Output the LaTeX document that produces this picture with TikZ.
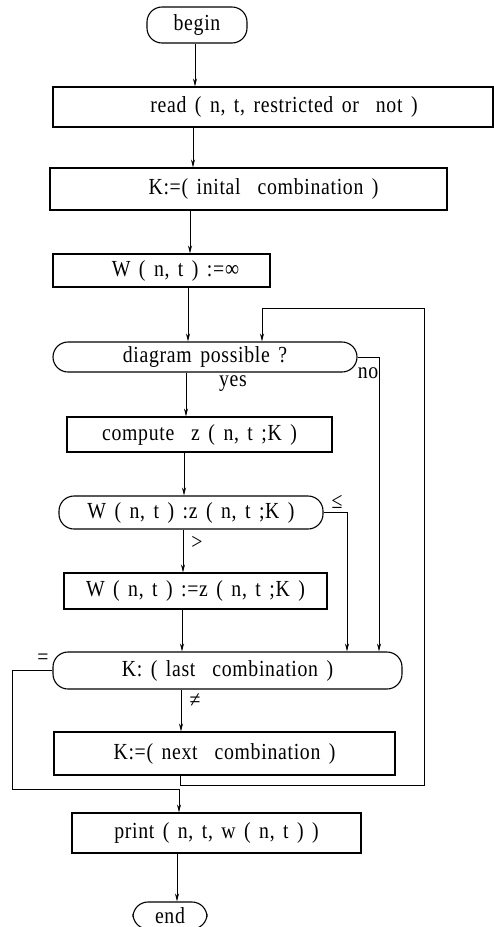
\documentclass[tikz,border=0pt]{standalone}
\usepackage{fontspec}
\setmainfont[FakeStretch=0.86,LetterSpace=3,WordSpace=1.5]{Liberation Serif}
\usetikzlibrary{arrows.meta}
\begin{document}
\begin{tikzpicture}[x=1pt,y=-1pt,
  box/.style={draw,line width=1.1pt,minimum width=#1,inner sep=0pt},
  stad/.style={draw,line width=1.1pt,rounded corners=15pt,minimum width=#1,inner sep=0pt},
  conn/.style={line width=0.7pt},
  arr/.style={conn,-{Stealth[length=8pt,width=4pt]}},
  lab/.style={inner sep=0pt},
  every node/.style={font=\fontsize{23}{25}\selectfont}]
\useasboundingbox (0,0) rectangle (494,927);
% nodes
\node[stad=100, minimum height=36] (begin) at (197,25) {begin};
\node[box=440, minimum height=40] (read) at (273,107) {\hspace{22pt}read ( n, t, restricted or \ not )};
\node[box=397, minimum height=42] (init) at (248.5,189) {\hspace{30pt}K:=( inital \ combination )};
\node[box=217, minimum height=33] (winf) at (161.5,270.5) {\hspace{28pt}W ( n, t ) :=∞};
\node[stad=304, minimum height=30] (diag) at (205,357) {diagram possible ?};
\node[box=265, minimum height=35] (comp) at (199.5,434.5) {compute \ z ( n, t ;K )};
\node[stad=264, minimum height=33] (cmp) at (191,512.5) {W ( n, t ) :z ( n, t ;K )};
\node[box=263, minimum height=36] (asg) at (195.5,591) {W ( n, t ) :=z ( n, t ;K )};
\node[stad=349, minimum height=37] (last) at (227.5,670.5) {K: ( last \ combination )\hspace{10pt}};
\node[box=341, minimum height=43] (next) at (224.5,753.5) {K:=( next \ combination )};
\node[box=289, minimum height=40] (print) at (216.5,833) {print ( n, t, w ( n, t ) )};
\node[stad=74, minimum height=27] (end) at (170,915.5) {end};
% labels
\node[lab] (yes) at (233,384) {yes};
\node[lab] (no) at (368,373) {no};
\node[lab] (le) at (337,502) {≤};
\node[lab] (gt) at (197,543) {>};
\node[lab] (eq) at (43,659) {=};
\node[lab] (ne) at (195,701) {≠};
% column coordinates
\coordinate (c1) at (195,0);
\coordinate (c2) at (193,0);
\coordinate (c3) at (190,0);
\coordinate (c4) at (188,0);
\coordinate (c5) at (186,0);
\coordinate (c6) at (184,0);
\coordinate (c7) at (183,0);
\coordinate (c8) at (182,0);
\coordinate (c9) at (181,0);
\coordinate (c10) at (180,0);
\coordinate (c11) at (179,0);
\coordinate (c12) at (177,0);
\coordinate (cno) at (379,0);
\coordinate (cle) at (347,0);
\coordinate (lr) at (424,785);
\coordinate (lt) at (262,308);
\coordinate (eqc) at (12,789);
% connectors
\draw[arr] (begin.south -| c1) -- (read.north -| c1);
\draw[arr] (read.south -| c2) -- (init.north -| c2);
\draw[arr] (init.south -| c3) -- (winf.north -| c3);
\draw[arr] (winf.south -| c4) -- (diag.north -| c4);
\draw[arr] (diag.south -| c5) -- (comp.north -| c5);
\draw[arr] (comp.south -| c6) -- (cmp.north -| c6);
\draw[arr] (cmp.south -| c7) -- (asg.north -| c7);
\draw[arr] (asg.south -| c8) -- (last.north -| c8);
\draw[arr] (last.south -| c9) -- (next.north -| c9);
\draw[arr] (next.south -| c10) |- (lr) |- (lt) -- (diag.north -| lt);
\draw[arr] (diag.east) -| (last.north -| cno);
\draw[arr] (cmp.east) -| (last.north -| cle);
\draw[arr] (last.west) -| (eqc) -| (print.north -| c11);
\draw[arr] (print.south -| c12) -- (end.north -| c12);
\end{tikzpicture}
\end{document}
